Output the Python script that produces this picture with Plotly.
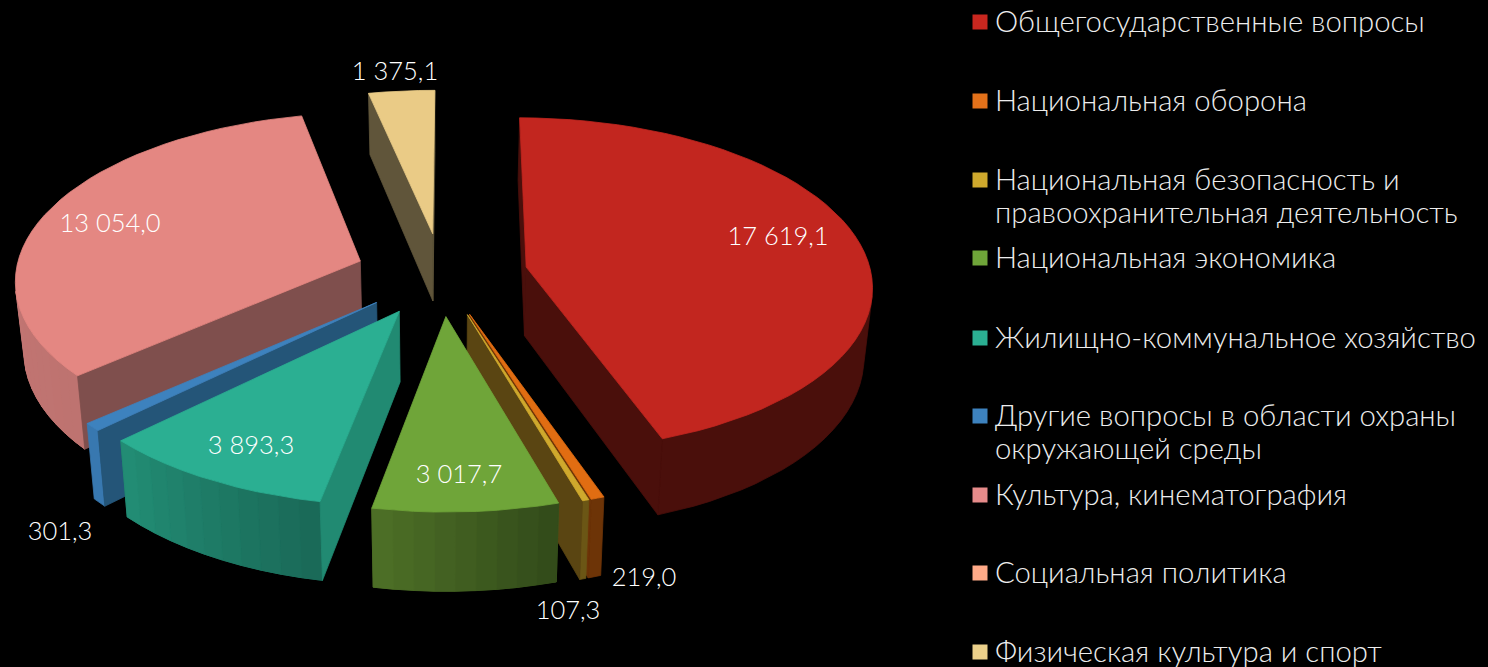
import math
import plotly.graph_objects as go

categories = [
    "Общегосударственные вопросы",
    "Национальная оборона",
    "Национальная безопасность и<br>правоохранительная деятельность",
    "Национальная экономика",
    "Жилищно-коммунальное хозяйство",
    "Другие вопросы в области охраны<br>окружающей среды",
    "Культура, кинематография",
    "Социальная политика",
    "Физическая культура и спорт",
]
values = [17619.1, 219.0, 107.3, 3017.7, 3893.3, 301.3, 13054.0, 0.0, 1375.1]
value_labels = ["17 619,1", "219,0", "107,3", "3 017,7", "3 893,3", "301,3", "13 054,0", "", "1 375,1"]

top_colors = ["#C2261F", "#E16D12", "#CFA92D", "#6FA539", "#2BAF92", "#3D82BE", "#E48782", "#FFAA88", "#EACB86"]
legend_colors = ["#C9271F", "#E3711A", "#CFA92D", "#6FA539", "#2BAF92", "#3D82BE", "#E68B8A", "#FFAA88", "#EBD08A"]
cut_colors = ["#4A0F0B", "#6D3407", "#5A4512", "#4A6B25", "#218A72", "#245578", "#7F4F4D", "#7F5544", "#60553A"]
rim_from = ["#4A0F0B", "#6D3407", "#6B5615", "#334C1A", "#1A6A58", "#3878B0", "#BE7370", "#7F5544", "#60553A"]
rim_to = ["#4A0F0B", "#6D3407", "#6B5615", "#4C6E26", "#228C74", "#3878B0", "#CB7B78", "#7F5544", "#60553A"]

# projection settings (pixels)
CX, CY, RX, RY, H, PERSP, TAPER, EXPLODE, ROT = 441.5, 274, 345, 166, 69, 0.103, 0.02, 0.25, math.radians(0.25)
draw_order = [8, 6, 0, 1, 2, 5, 4, 3]
legend_y = [20, 99, 178, 256, 336, 414, 493, 571, 650]
marker_y = [22, 101, 180, 258, 338, 416, 495, 573, 652]
LINE_GAP = 33.5
label_xy = {0: (778, 238.5), 1: (644, 580), 2: (568, 613), 3: (459, 476.5), 4: (251, 447.5),
            5: (60, 534), 6: (110, 226), 8: (395, 74)}


def project(X, Y, z):
    s = 1 / (1 - PERSP * Y)
    return CX + RX * X * s * (1 - TAPER * z), CY + RY * Y * s + H * s * z


def mix(a, b, t):
    pa = [int(a[i:i + 2], 16) for i in (1, 3, 5)]
    pb = [int(b[i:i + 2], 16) for i in (1, 3, 5)]
    return "rgb(%d,%d,%d)" % tuple(round(p + (q - p) * t) for p, q in zip(pa, pb))


def poly(fig, pts, color, name):
    fig.add_trace(go.Scatter(
        x=[p[0] for p in pts] + [pts[0][0]], y=[p[1] for p in pts] + [pts[0][1]],
        mode="lines", fill="toself", fillcolor=color, line=dict(color=color, width=0.8),
        hoverinfo="skip", showlegend=False, name=name))


def area(pts):
    return sum(pts[i][0] * pts[(i + 1) % len(pts)][1] - pts[(i + 1) % len(pts)][0] * pts[i][1]
               for i in range(len(pts)))


total = sum(values)
angles = [ROT]
for v in values:
    angles.append(angles[-1] + v / total * 2 * math.pi)

fig = go.Figure()
for i in draw_order:
    a0, a1 = angles[i], angles[i + 1]
    mid = (a0 + a1) / 2
    ax, ay = EXPLODE * math.sin(mid), -EXPLODE * math.cos(mid)
    n = max(2, int((a1 - a0) / math.radians(3)))
    ring = [(ax + math.sin(a0 + (a1 - a0) * k / n), ay - math.cos(a0 + (a1 - a0) * k / n)) for k in range(n + 1)]
    outline = [(ax, ay)] + ring
    faces = []
    visible_rim = []
    for k in range(len(outline)):
        p, q = outline[k], outline[(k + 1) % len(outline)]
        quad = [project(*p, 0), project(*q, 0), project(*q, 1), project(*p, 1)]
        if area(quad) > 0:
            continue
        if k == 0 or k == len(outline) - 1:
            faces.append((quad, cut_colors[i]))
        else:
            t = (k - 1) / max(1, n - 1)
            visible_rim.append((p, q, mix(rim_from[i], rim_to[i], t)))
    # a single rim underlay keeps the joins between shaded strips from showing
    if visible_rim:
        top_edge = [project(*visible_rim[0][0], 0)] + [project(*r[1], 0) for r in visible_rim]
        bottom_edge = [project(*visible_rim[0][0], 1)] + [project(*r[1], 1) for r in visible_rim]
        poly(fig, top_edge + bottom_edge[::-1], mix(rim_from[i], rim_to[i], 0.5), categories[i])
        if rim_from[i] != rim_to[i]:
            for p, q, col in visible_rim:
                poly(fig, [project(*p, 0), project(*q, 0), project(*q, 1), project(*p, 1)], col, categories[i])
    for quad, col in faces:
        poly(fig, quad, col, categories[i])
    poly(fig, [project(*p, 0) for p in outline], top_colors[i], categories[i])

FONT = "Lato Light, Lato, sans-serif"
fig.add_trace(go.Scatter(
    x=[label_xy[i][0] for i in label_xy], y=[label_xy[i][1] for i in label_xy],
    text=[value_labels[i] for i in label_xy], mode="text",
    textfont=dict(family=FONT, size=25.5, color="white"), textposition="middle center",
    hoverinfo="skip", showlegend=False))
fig.add_trace(go.Scatter(
    x=[980] * len(categories), y=marker_y,
    mode="markers", marker=dict(symbol="square", size=15, color=legend_colors, line=dict(width=0)),
    hoverinfo="skip", showlegend=False))
for i, c in enumerate(categories):
    for j, line in enumerate(c.split("<br>")):
        fig.add_annotation(x=993, y=legend_y[i] + j * LINE_GAP, text=line, showarrow=False,
                           xanchor="left", yanchor="middle", align="left",
                           font=dict(family=FONT, size=29.3, color="#EDEDED"))

fig.update_layout(
    width=1488, height=667, margin=dict(l=0, r=0, t=0, b=0), showlegend=False,
    paper_bgcolor="black", plot_bgcolor="black",
    xaxis=dict(range=[0, 1488], visible=False, fixedrange=True),
    yaxis=dict(range=[667, 0], visible=False, fixedrange=True),
)
fig.write_html("out.html", config=dict(displayModeBar=False),
               post_script="document.body.style.margin='0';document.body.style.background='black';"
                           "document.documentElement.style.overflow='hidden';")
